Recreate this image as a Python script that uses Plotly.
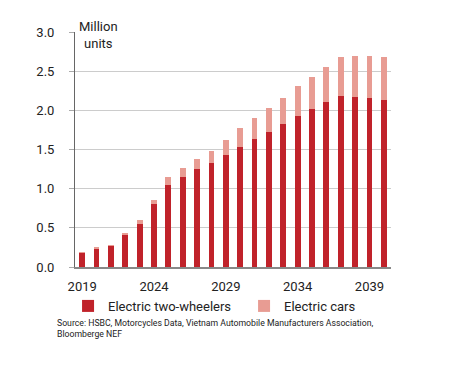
import plotly.graph_objects as go

years = list(range(2019, 2041))
two_wheelers = [0.18, 0.24, 0.275, 0.41, 0.545, 0.81, 1.045, 1.147, 1.245, 1.322,
                1.424, 1.535, 1.633, 1.718, 1.82, 1.923, 2.013, 2.11, 2.187, 2.17,
                2.153, 2.136]
cars = [0.005, 0.005, 0.005, 0.02, 0.05, 0.05, 0.11, 0.12, 0.135, 0.16,
        0.196, 0.235, 0.272, 0.307, 0.333, 0.384, 0.413, 0.44, 0.49, 0.52,
        0.537, 0.542]
y_ticks = [0.0, 0.5, 1.0, 1.5, 2.0, 2.5, 3.0]
x_ticks = [2019, 2024, 2029, 2034, 2039]

dark_red = "#C0222A"
light_red = "#E89C93"
font_family = "Roboto, Arial, sans-serif"

fig = go.Figure()
fig.add_trace(go.Bar(x=years, y=two_wheelers, name="Electric two-wheelers",
                     marker=dict(color=dark_red, line=dict(width=0)),
                     legend="legend"))
fig.add_trace(go.Bar(x=years, y=cars, name="Electric cars",
                     marker=dict(color=light_red, line=dict(width=0)),
                     legend="legend2"))

legend_common = dict(orientation="h", xanchor="left", yanchor="top", y=-0.102,
                     font=dict(size=13, color="#222222"), itemwidth=30,
                     bgcolor="rgba(0,0,0,0)")

fig.update_layout(
    barmode="stack",
    bargap=0.6,
    width=443, height=358,
    margin=dict(l=67, r=60, t=24, b=99),
    paper_bgcolor="white", plot_bgcolor="white",
    font=dict(family=font_family, size=13, color="#222222"),
    showlegend=True,
    legend=dict(x=-0.022, **legend_common),
    legend2=dict(x=0.535, **legend_common),
    xaxis=dict(range=[2018.5, 2040.5], tickmode="array", tickvals=x_ticks,
               showgrid=False, showline=True, linecolor="#888888", linewidth=1.5,
               ticks="", ticklabelstandoff=7, zeroline=False,
               tickfont=dict(size=13, color="#222222")),
    yaxis=dict(range=[0, 3.0], tickmode="array", tickvals=y_ticks,
               ticktext=[f"{v:.1f}" for v in y_ticks],
               showgrid=True, gridcolor="#CCCCCC", gridwidth=1,
               showline=True, linecolor="#666666", linewidth=1,
               ticks="outside", ticklen=5, tickcolor="#AAAAAA",
               ticklabelstandoff=12, zeroline=False,
               tickfont=dict(size=13, color="#222222")),
)

fig.add_annotation(text="Million<br>units", xref="paper", yref="paper",
                   x=0.005, y=1.065, xanchor="left", yanchor="top", showarrow=False,
                   align="center", font=dict(size=13, color="#222222"))

fig.add_annotation(text="Source: HSBC, Motorcycles Data, Vietnam Automobile Manufacturers Association,<br>Bloomberge NEF",
                   xref="paper", yref="paper", x=-0.063, y=-0.207,
                   xanchor="left", yanchor="top", showarrow=False, align="left",
                   font=dict(size=8.7, color="#222222"))

fig.write_html("out.html")
